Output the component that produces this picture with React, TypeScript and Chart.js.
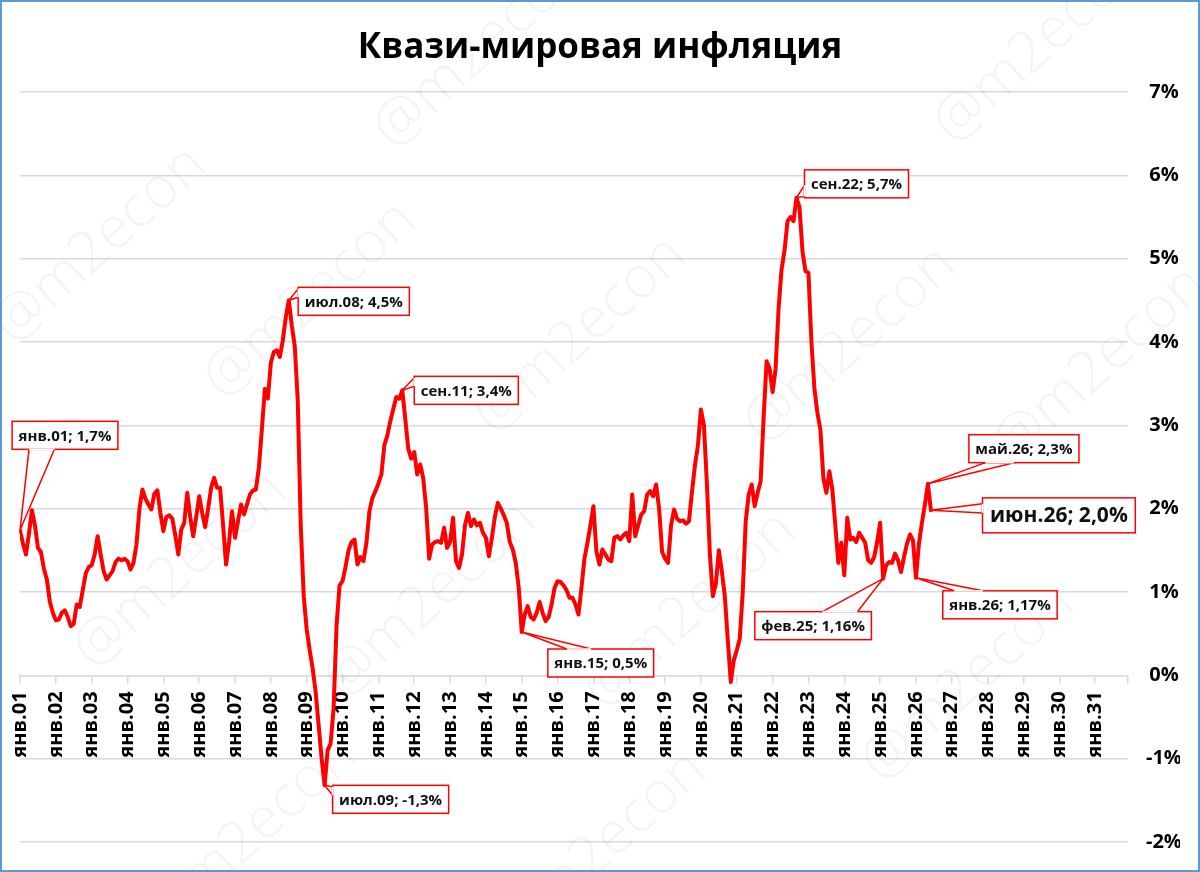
import React, { useEffect, useRef } from 'react';
import { Chart, registerables } from 'chart.js';

Chart.register(...registerables);

// ---- Data ----
const monthAbbr = ['янв', 'фев', 'мар', 'апр', 'май', 'июн', 'июл', 'авг', 'сен', 'окт', 'ноя', 'дек'];
const yearCodes = ['01', '02', '03', '04', '05', '06', '07', '08', '09', '10', '11', '12', '13', '14', '15', '16',
  '17', '18', '19', '20', '21', '22', '23', '24', '25', '26', '27', '28', '29', '30', '31'];

const v2001 = [1.74, 1.58, 1.45, 1.70, 1.98, 1.80, 1.53, 1.48, 1.28, 1.15, 0.88, 0.75];
const v2002 = [0.66, 0.67, 0.75, 0.78, 0.70, 0.59, 0.62, 0.85, 0.82, 1.02, 1.22, 1.30];
const v2003 = [1.32, 1.45, 1.67, 1.45, 1.25, 1.15, 1.20, 1.25, 1.36, 1.40, 1.38, 1.40];
const v2004 = [1.37, 1.27, 1.35, 1.57, 2.00, 2.23, 2.12, 2.05, 1.99, 2.18, 2.22, 1.95];
const v2005 = [1.73, 1.90, 1.92, 1.88, 1.68, 1.45, 1.75, 1.83, 2.19, 1.90, 1.67, 1.90];
const v2006 = [2.15, 1.95, 1.78, 2.00, 2.25, 2.37, 2.25, 2.25, 1.80, 1.33, 1.60, 1.97];
const v2007 = [1.65, 1.85, 2.05, 1.93, 2.05, 2.17, 2.22, 2.23, 2.50, 2.96, 3.44, 3.32];
const v2008 = [3.75, 3.88, 3.90, 3.82, 4.02, 4.30, 4.50, 4.20, 3.95, 3.30, 1.80, 0.95];
const v2009 = [0.55, 0.30, 0.08, -0.20, -0.60, -1.00, -1.32, -0.90, -0.82, -0.40, 0.60, 1.08];
const v2010 = [1.13, 1.30, 1.50, 1.60, 1.63, 1.33, 1.42, 1.37, 1.59, 1.97, 2.13, 2.21];
const v2011 = [2.30, 2.41, 2.76, 2.88, 3.05, 3.20, 3.34, 3.32, 3.42, 3.08, 2.72, 2.60];
const v2012 = [2.68, 2.41, 2.53, 2.37, 2.01, 1.40, 1.57, 1.60, 1.61, 1.59, 1.77, 1.53];
const v2013 = [1.60, 1.89, 1.37, 1.29, 1.45, 1.80, 1.95, 1.79, 1.87, 1.80, 1.83, 1.71];
const v2014 = [1.65, 1.43, 1.65, 1.90, 2.07, 2.00, 1.92, 1.83, 1.60, 1.51, 1.35, 1.05];
const v2015 = [0.52, 0.73, 0.83, 0.70, 0.67, 0.75, 0.88, 0.75, 0.65, 0.70, 0.85, 1.05];
const v2016 = [1.13, 1.12, 1.08, 1.02, 0.93, 0.93, 0.85, 0.73, 1.05, 1.40, 1.59, 1.80];
const v2017 = [2.03, 1.49, 1.33, 1.51, 1.45, 1.39, 1.37, 1.65, 1.67, 1.63, 1.68, 1.71];
const v2018 = [1.61, 2.17, 1.67, 1.80, 1.93, 1.97, 2.17, 2.21, 2.15, 2.29, 2.00, 1.48];
const v2019 = [1.40, 1.35, 1.80, 1.99, 1.88, 1.85, 1.86, 1.82, 1.85, 2.20, 2.52, 2.76];
const v2020 = [3.19, 3.00, 2.30, 1.45, 0.95, 1.10, 1.50, 1.25, 0.95, 0.42, -0.08, 0.18];
const v2021 = [0.30, 0.44, 1.00, 1.85, 2.17, 2.29, 2.03, 2.19, 2.33, 3.10, 3.77, 3.68];
const v2022 = [3.40, 3.68, 4.40, 4.87, 5.10, 5.45, 5.50, 5.45, 5.73, 5.62, 5.09, 4.85];
const v2023 = [4.83, 4.00, 3.44, 3.15, 2.95, 2.37, 2.19, 2.45, 2.23, 1.80, 1.35, 1.59];
const v2024 = [1.20, 1.89, 1.63, 1.65, 1.60, 1.71, 1.65, 1.59, 1.38, 1.35, 1.42, 1.60];
const v2025 = [1.83, 1.16, 1.32, 1.36, 1.35, 1.46, 1.38, 1.24, 1.42, 1.58, 1.69, 1.62];
const v2026 = [1.17, 1.58, 1.83, 2.05, 2.30, 1.98];

const series = [
  ...v2001, ...v2002, ...v2003, ...v2004, ...v2005, ...v2006, ...v2007, ...v2008, ...v2009,
  ...v2010, ...v2011, ...v2012, ...v2013, ...v2014, ...v2015, ...v2016, ...v2017, ...v2018,
  ...v2019, ...v2020, ...v2021, ...v2022, ...v2023, ...v2024, ...v2025, ...v2026,
];

const monthLabels: string[] = [];
yearCodes.forEach((y) => monthAbbr.forEach((m) => monthLabels.push(`${m}.${y}`)));

const yTicks = [-2, -1, 0, 1, 2, 3, 4, 5, 6, 7];

// annotated points: index into series, decimals shown
const calloutPoints = [
  { idx: 0, dec: 1 },
  { idx: 90, dec: 1 },
  { idx: 102, dec: 1 },
  { idx: 128, dec: 1 },
  { idx: 168, dec: 1 },
  { idx: 260, dec: 1 },
  { idx: 289, dec: 2 },
  { idx: 300, dec: 2 },
  { idx: 304, dec: 1 },
  { idx: 305, dec: 1 },
];

const TITLE = 'Квази-мировая инфляция';
const WATERMARK = '@m2econ';

// ---- Layout / styles (not data) ----
const calloutLayout = [
  { dx: 45, dy: -95, edge: 'bottom', t0: 0.16, t1: 0.4, size: 15 },
  { dx: 65, dy: 1, edge: 'left', t0: 0.05, t1: 0.35, size: 15 },
  { dx: 66, dy: 14, edge: 'left', t0: 0.05, t1: 0.35, size: 15 },
  { dx: 64, dy: 0, edge: 'left', t0: 0.05, t1: 0.35, size: 15 },
  { dx: 79, dy: 31, edge: 'top', t0: 0.18, t1: 0.41, size: 15 },
  { dx: 60, dy: -14, edge: 'left', t0: 0.55, t1: 0.95, size: 15 },
  { dx: -70, dy: 47, edge: 'top', t0: 0.58, t1: 0.88, size: 15 },
  { dx: 84, dy: 27, edge: 'top', t0: 0.1, t1: 0.35, size: 15 },
  { dx: 96, dy: -35, edge: 'bottom', t0: 0.15, t1: 0.41, size: 15 },
  { dx: 128, dy: 5, edge: 'left', t0: 0.17, t1: 0.43, size: 21 },
];

const watermarkSpots = [
  [480, 50], [1040, 45],
  [100, 245], [310, 300], [580, 335], [850, 345], [1100, 365],
  [180, 570], [430, 600], [690, 610], [968, 683],
  [250, 835], [600, 850],
];

const FONT = '"Open Sans", "DejaVu Sans", sans-serif';

const fmt = (v: number, d: number) => v.toFixed(d).replace('.', ',') + '%';

const decorPlugin = {
  id: 'decor',
  beforeDraw(chart: any) {
    const { ctx, width, height } = chart;
    ctx.save();
    ctx.fillStyle = '#ffffff';
    ctx.fillRect(0, 0, width, height);
    ctx.restore();
  },
  beforeDatasetsDraw(chart: any) {
    const { ctx } = chart;
    ctx.save();
    ctx.font = `300 58px ${FONT}`;
    ctx.fillStyle = 'rgba(0,0,0,0.045)';
    ctx.textAlign = 'center';
    ctx.textBaseline = 'middle';
    watermarkSpots.forEach(([x, y]) => {
      ctx.save();
      ctx.translate(x, y);
      ctx.rotate(-42 * Math.PI / 180);
      ctx.fillText(WATERMARK, 0, 0);
      ctx.restore();
    });
    ctx.restore();
  },
  afterDatasetsDraw(chart: any) {
    const { ctx } = chart;
    const xs = chart.scales.x;
    const ys = chart.scales.y;
    calloutPoints.forEach((cp, k) => {
      const lay = calloutLayout[k];
      const v = series[cp.idx];
      const text = `${monthLabels[cp.idx]}; ${fmt(v, cp.dec)}`;
      const px = xs.getPixelForValue(cp.idx);
      const py = ys.getPixelForValue(v);
      ctx.save();
      ctx.font = `bold ${lay.size}px ${FONT}`;
      const tw = ctx.measureText(text).width;
      const padX = lay.size > 16 ? 7.5 : 6.5;
      const h = lay.size > 16 ? 35 : 28;
      const w = tw + padX * 2;
      const cx = px + lay.dx;
      const cy = py + lay.dy;
      const bx = cx - w / 2;
      const by = cy - h / 2;
      let p0: number[];
      let p1: number[];
      if (lay.edge === 'left') { p0 = [bx, by + lay.t0 * h]; p1 = [bx, by + lay.t1 * h]; }
      else if (lay.edge === 'right') { p0 = [bx + w, by + lay.t0 * h]; p1 = [bx + w, by + lay.t1 * h]; }
      else if (lay.edge === 'top') { p0 = [bx + lay.t0 * w, by]; p1 = [bx + lay.t1 * w, by]; }
      else { p0 = [bx + lay.t0 * w, by + h]; p1 = [bx + lay.t1 * w, by + h]; }
      ctx.lineWidth = 1.5;
      ctx.strokeStyle = '#ff0000';
      ctx.fillStyle = '#ffffff';
      ctx.lineJoin = 'miter';
      ctx.beginPath();
      ctx.moveTo(p0[0], p0[1]);
      ctx.lineTo(px, py);
      ctx.lineTo(p1[0], p1[1]);
      ctx.closePath();
      ctx.fill();
      ctx.stroke();
      ctx.fillRect(bx, by, w, h);
      ctx.strokeRect(bx, by, w, h);
      // cover the wedge base so the callout reads as one shape
      ctx.beginPath();
      ctx.moveTo(p0[0], p0[1]);
      ctx.lineTo(p1[0], p1[1]);
      ctx.strokeStyle = '#ffffff';
      ctx.lineWidth = 1.6;
      ctx.stroke();
      ctx.fillStyle = '#111111';
      ctx.textAlign = 'center';
      ctx.textBaseline = 'middle';
      ctx.fillText(text, cx, cy + 1);
      ctx.restore();
    });
  },
  afterDraw(chart: any) {
    const { ctx, width, height } = chart;
    ctx.save();
    ctx.font = `bold 35px ${FONT}`;
    ctx.fillStyle = '#000000';
    ctx.textAlign = 'center';
    ctx.textBaseline = 'alphabetic';
    ctx.fillText(TITLE, width / 2, 58);
    ctx.strokeStyle = '#5b9bd5';
    ctx.lineWidth = 2;
    ctx.strokeRect(1, 1, width - 2, height - 2);
    ctx.restore();
  },
};

export default function App() {
  const ref = useRef<HTMLCanvasElement | null>(null);

  useEffect(() => {
    document.body.style.margin = '0';
    const canvas = ref.current;
    if (!canvas) return;
    Chart.defaults.font.family = FONT;
    const chart = new Chart(canvas, {
      type: 'line',
      data: {
        datasets: [
          {
            data: series.map((v, i) => ({ x: i, y: v })),
            borderColor: '#ff0000',
            borderWidth: 4,
            pointRadius: 0,
            pointHoverRadius: 0,
            tension: 0,
            fill: false,
            borderJoinStyle: 'round',
            borderCapStyle: 'round',
          },
        ],
      },
      options: {
        animation: false,
        responsive: false,
        maintainAspectRatio: false,
        events: [],
        layout: { padding: { top: 92, bottom: 25, left: 20, right: 20 } },
        plugins: {
          legend: { display: false },
          tooltip: { enabled: false },
          title: { display: false },
        },
        scales: {
          x: {
            type: 'linear',
            min: 0,
            max: monthLabels.length - 1,
            position: { y: 0 },
            grid: { drawOnChartArea: false, drawTicks: true, tickLength: 7, color: '#d9d9d9', lineWidth: 1.5 },
            border: { display: true, color: '#d9d9d9', width: 1.5 },
            ticks: {
              stepSize: 12,
              autoSkip: false,
              maxRotation: 90,
              minRotation: 90,
              padding: 9,
              color: '#000000',
              font: { weight: 'bold', size: 20, family: FONT },
              callback: (v: any) => (Number(v) % 12 === 0 ? monthLabels[Number(v)] : ''),
            },
          },
          y: {
            type: 'linear',
            position: 'right',
            min: yTicks[0],
            max: yTicks[yTicks.length - 1],
            afterFit: (s: any) => { s.width = 52; },
            grid: { color: '#d9d9d9', lineWidth: 1.5, drawTicks: false },
            border: { display: false },
            ticks: {
              stepSize: 1,
              padding: 18,
              crossAlign: 'center',
              color: '#000000',
              font: { weight: 'bold', size: 20, family: FONT },
              callback: (v: any) => `${v}%`,
            },
          },
        },
      },
      plugins: [decorPlugin],
    } as any);
    return () => chart.destroy();
  }, []);

  return (
    <div style={{ width: 1200, height: 872, position: 'relative' }}>
      <canvas ref={ref} width={1200} height={872} style={{ display: 'block', width: 1200, height: 872 }} />
    </div>
  );
}
